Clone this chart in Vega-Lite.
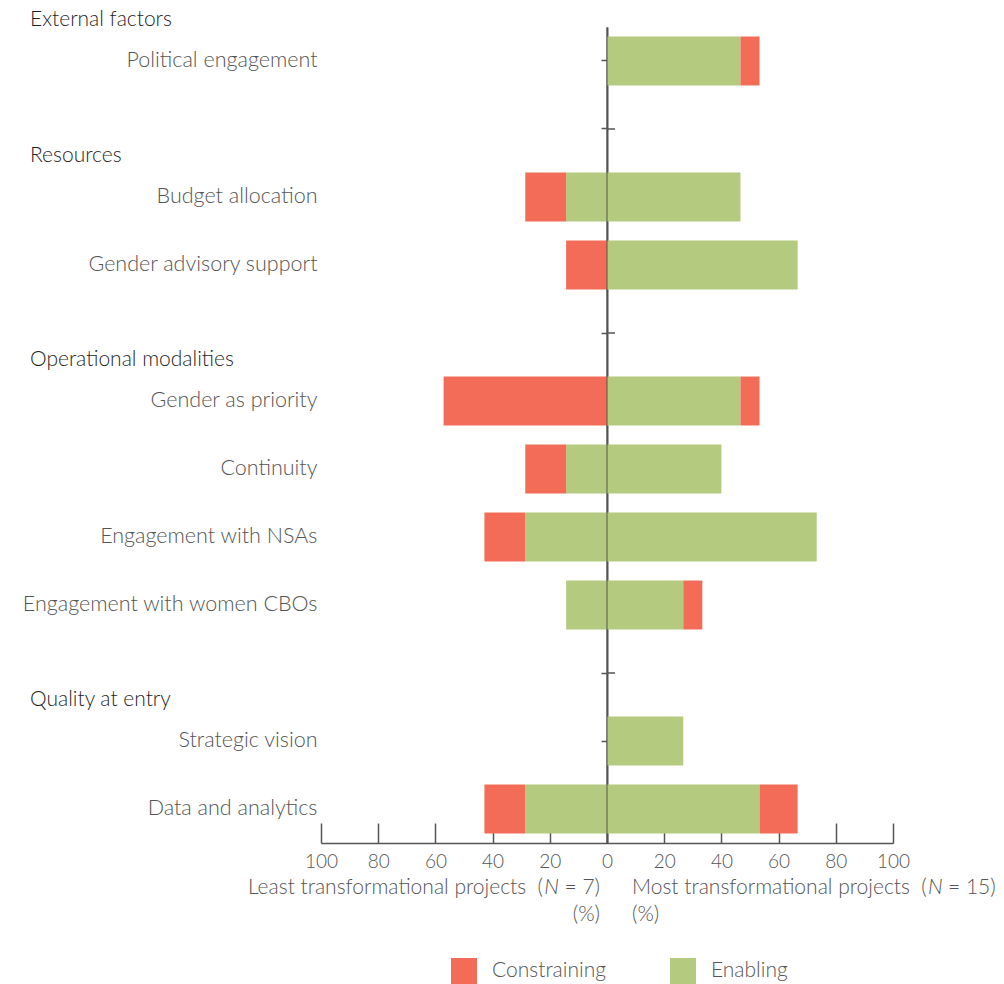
{
  "$schema": "https://vega.github.io/schema/vega-lite/v6.json",
  "width": 572,
  "height": 816,
  "autosize": {"type": "none"},
  "padding": {"left": 321, "top": 27, "right": 111, "bottom": 141},
  "config": {
    "font": "Lato",
    "view": {"stroke": null},
    "text": {"font": "Lato"}
  },
  "datasets": {
    "bars": [
      {"row": "Political engagement", "group": "Most", "type": "Enabling", "value": 46.67},
      {"row": "Political engagement", "group": "Most", "type": "Constraining", "value": 6.67},
      {"row": "Budget allocation", "group": "Least", "type": "Enabling", "value": -14.29},
      {"row": "Budget allocation", "group": "Least", "type": "Constraining", "value": -14.29},
      {"row": "Budget allocation", "group": "Most", "type": "Enabling", "value": 46.67},
      {"row": "Gender advisory support", "group": "Least", "type": "Constraining", "value": -14.29},
      {"row": "Gender advisory support", "group": "Most", "type": "Enabling", "value": 66.67},
      {"row": "Gender as priority", "group": "Least", "type": "Constraining", "value": -57.14},
      {"row": "Gender as priority", "group": "Most", "type": "Enabling", "value": 46.67},
      {"row": "Gender as priority", "group": "Most", "type": "Constraining", "value": 6.67},
      {"row": "Continuity", "group": "Least", "type": "Enabling", "value": -14.29},
      {"row": "Continuity", "group": "Least", "type": "Constraining", "value": -14.29},
      {"row": "Continuity", "group": "Most", "type": "Enabling", "value": 40},
      {"row": "Engagement with NSAs", "group": "Least", "type": "Enabling", "value": -28.57},
      {"row": "Engagement with NSAs", "group": "Least", "type": "Constraining", "value": -14.29},
      {"row": "Engagement with NSAs", "group": "Most", "type": "Enabling", "value": 73.33},
      {"row": "Engagement with women CBOs", "group": "Least", "type": "Enabling", "value": -14.29},
      {"row": "Engagement with women CBOs", "group": "Most", "type": "Enabling", "value": 26.67},
      {"row": "Engagement with women CBOs", "group": "Most", "type": "Constraining", "value": 6.67},
      {"row": "Strategic vision", "group": "Most", "type": "Enabling", "value": 26.67},
      {"row": "Data and analytics", "group": "Least", "type": "Enabling", "value": -28.57},
      {"row": "Data and analytics", "group": "Least", "type": "Constraining", "value": -14.29},
      {"row": "Data and analytics", "group": "Most", "type": "Enabling", "value": 53.33},
      {"row": "Data and analytics", "group": "Most", "type": "Constraining", "value": 13.33}
    ],
    "headers": [
      {"label": "External factors", "row": "Political engagement"},
      {"label": "Resources", "row": "Budget allocation"},
      {"label": "Operational modalities", "row": "Gender as priority"},
      {"label": "Quality at entry", "row": "Strategic vision"}
    ],
    "gaps": [{"row": "gap1"}, {"row": "gap2"}, {"row": "gap3"}]
  },
  "layer": [
    {
      "data": {"name": "bars"},
      "mark": {"type": "bar"},
      "encoding": {
        "y": {
          "field": "row",
          "type": "nominal",
          "scale": {
            "domain": ["Political engagement", "gap1", "Budget allocation", "Gender advisory support", "gap2", "Gender as priority", "Continuity", "Engagement with NSAs", "Engagement with women CBOs", "gap3", "Strategic vision", "Data and analytics"],
            "paddingInner": 0.28,
            "paddingOuter": 0.14
          },
          "axis": {
            "title": null,
            "offset": -286,
            "domainColor": "#555555",
            "domainWidth": 2,
            "tickColor": "#555555",
            "tickWidth": 1.5,
            "tickSize": 6,
            "labelPadding": 284,
            "labelFontSize": 21.5,
            "labelColor": "#555555",
            "labelFont": "Lato",
            "labelFontWeight": 300,
            "labelLimit": 400,
            "labelExpr": "indexof(datum.value, 'gap') == 0 ? '' : datum.value"
          }
        },
        "x": {
          "field": "value",
          "type": "quantitative",
          "stack": "zero",
          "scale": {"domain": [-100, 100], "nice": false},
          "axis": {
            "title": null,
            "values": [-100, -80, -60, -40, -20, 0, 20, 40, 60, 80, 100],
            "labelExpr": "abs(datum.value)",
            "grid": false,
            "tickSize": -20,
            "labelPadding": 29,
            "domainColor": "#555555",
            "domainWidth": 1.5,
            "tickColor": "#555555",
            "tickWidth": 1.5,
            "labelFontSize": 19,
            "labelFont": "Lato",
            "labelFontWeight": 300,
            "labelColor": "#555555",
            "labelFlush": false
          }
        },
        "color": {
          "field": "type",
          "type": "nominal",
          "scale": {"domain": ["Constraining", "Enabling"], "range": ["#F26C57", "#B3CA7F"]},
          "legend": {
            "title": null,
            "orient": "none",
            "legendX": 130,
            "legendY": 931,
            "direction": "horizontal",
            "symbolType": "square",
            "symbolSize": 676,
            "symbolStrokeWidth": 0,
            "symbolOpacity": 1,
            "labelFontSize": 21,
            "labelFont": "Lato",
            "labelFontWeight": 300,
            "labelColor": "#555555",
            "labelOffset": 15,
            "columnPadding": 64,
            "padding": 0
          }
        },
        "order": {"field": "type", "sort": "descending"}
      }
    },
    {
      "data": {"values": [{}]},
      "mark": {"type": "rule", "color": "#555555", "strokeWidth": 1},
      "encoding": {"x": {"datum": 0, "type": "quantitative"}}
    },
    {
      "data": {"name": "gaps"},
      "mark": {"type": "rule", "color": "#555555", "strokeWidth": 1.5},
      "encoding": {
        "y": {"field": "row", "type": "nominal"},
        "x": {"datum": 0, "type": "quantitative"},
        "x2": {"datum": 2.8}
      }
    },
    {
      "data": {"name": "headers"},
      "mark": {"type": "text", "align": "left", "baseline": "middle", "fontSize": 21, "fontWeight": 300, "color": "#1f1f1f", "dx": -291, "dy": -41},
      "encoding": {
        "y": {"field": "row", "type": "nominal"},
        "x": {"datum": -100, "type": "quantitative"},
        "text": {"field": "label"}
      }
    },
    {
      "data": {"values": [{"t": "Least transformational projects\u00a0\u00a0("}]},
      "mark": {"type": "text", "align": "right", "baseline": "middle", "fontSize": 21, "fontWeight": 300, "color": "#555555", "dx": -64, "dy": 79},
      "encoding": {"y": {"datum": "Data and analytics"}, "x": {"datum": 0, "type": "quantitative"}, "text": {"field": "t"}}
    },
    {
      "data": {"values": [{"t": "N"}]},
      "mark": {"type": "text", "align": "right", "baseline": "middle", "fontSize": 21, "fontWeight": 300, "fontStyle": "italic", "color": "#555555", "dx": -48, "dy": 79},
      "encoding": {"y": {"datum": "Data and analytics"}, "x": {"datum": 0, "type": "quantitative"}, "text": {"field": "t"}}
    },
    {
      "data": {"values": [{"t": "\u00a0=\u00a07)"}]},
      "mark": {"type": "text", "align": "right", "baseline": "middle", "fontSize": 21, "fontWeight": 300, "color": "#555555", "dx": -7, "dy": 79},
      "encoding": {"y": {"datum": "Data and analytics"}, "x": {"datum": 0, "type": "quantitative"}, "text": {"field": "t"}}
    },
    {
      "data": {"values": [{"t": "(%)"}]},
      "mark": {"type": "text", "align": "right", "baseline": "middle", "fontSize": 21, "fontWeight": 300, "color": "#555555", "dx": -7, "dy": 106},
      "encoding": {"y": {"datum": "Data and analytics"}, "x": {"datum": 0, "type": "quantitative"}, "text": {"field": "t"}}
    },
    {
      "data": {"values": [{"t": "Most transformational projects\u00a0\u00a0("}]},
      "mark": {"type": "text", "align": "left", "baseline": "middle", "fontSize": 21, "fontWeight": 300, "color": "#555555", "dx": 25, "dy": 79},
      "encoding": {"y": {"datum": "Data and analytics"}, "x": {"datum": 0, "type": "quantitative"}, "text": {"field": "t"}}
    },
    {
      "data": {"values": [{"t": "N"}]},
      "mark": {"type": "text", "align": "left", "baseline": "middle", "fontSize": 21, "fontWeight": 300, "fontStyle": "italic", "color": "#555555", "dx": 321, "dy": 79},
      "encoding": {"y": {"datum": "Data and analytics"}, "x": {"datum": 0, "type": "quantitative"}, "text": {"field": "t"}}
    },
    {
      "data": {"values": [{"t": "\u00a0=\u00a015)"}]},
      "mark": {"type": "text", "align": "left", "baseline": "middle", "fontSize": 21, "fontWeight": 300, "color": "#555555", "dx": 341, "dy": 79},
      "encoding": {"y": {"datum": "Data and analytics"}, "x": {"datum": 0, "type": "quantitative"}, "text": {"field": "t"}}
    },
    {
      "data": {"values": [{"t": "(%)"}]},
      "mark": {"type": "text", "align": "left", "baseline": "middle", "fontSize": 21, "fontWeight": 300, "color": "#555555", "dx": 25, "dy": 106},
      "encoding": {"y": {"datum": "Data and analytics"}, "x": {"datum": 0, "type": "quantitative"}, "text": {"field": "t"}}
    }
  ]
}
